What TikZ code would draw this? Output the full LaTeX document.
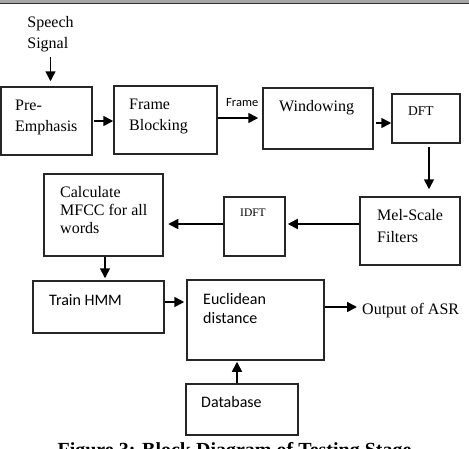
\documentclass[tikz,border=0pt]{standalone}
\usepackage{fontspec}
\setmainfont{Liberation Serif}
\newfontfamily\calibri{Carlito}
\usetikzlibrary{arrows.meta,calc}

\begin{document}
\begin{tikzpicture}[x=1pt,y=-1pt,
  box/.style={draw=black!85, line width=1.5pt, rectangle, inner sep=0pt},
  arr/.style={draw=black, line width=1.6pt, -{Triangle[length=10pt,width=10pt]}},
  txt/.style={anchor=base west, inner sep=0pt, font=\fontsize{16}{21}\selectfont},
  stxt/.style={anchor=base west, inner sep=0pt, font=\calibri\fontsize{16}{19}\selectfont},
]
\useasboundingbox (0,0) rectangle (469,448);
\clip (0,0) rectangle (469,448);

% rule at the top of the page
\fill[black!35] (0,0) rectangle (469,2.6);
\draw[black!80, line width=1.2pt] (0,3.7) -- (469,3.7);

% processing blocks
\node[box, minimum width=91, minimum height=68]  (pre)  at (46.5,121)  {};
\node[box, minimum width=103, minimum height=68] (fb)   at (165.5,120) {};
\node[box, minimum width=110, minimum height=61] (win)  at (318,118.5) {};
\node[box, minimum width=68, minimum height=49]  (dft)  at (426,118.5) {};
\node[box, minimum width=100, minimum height=68] (mel)  at (410,231)   {};
\node[box, minimum width=61, minimum height=59]  (idft) at (254.5,226.5) {};
\node[box, minimum width=119, minimum height=82] (calc) at (103.5,215) {};
\node[box, minimum width=131, minimum height=52] (hmm)  at (98.5,307)  {};
\node[box, minimum width=137, minimum height=80] (euc)  at (255.5,320) {};
\node[box, minimum width=112, minimum height=51] (db)   at (242,409.5) {};

% block texts
\node[txt] at (15,110) {Pre-};
\node[txt] at (15,131) {Emphasis};
\node[txt] at (129,109) {Frame};
\node[txt] at (129,130) {Blocking};
\node[txt] at (279,111) {Windowing};
\node[txt, font=\fontsize{13.5}{16}\selectfont] at (408,115) {DFT};
\node[txt] at (377,220) {Mel-Scale};
\node[txt] at (377,242) {Filters};
\node[txt, font=\fontsize{11.5}{14}\selectfont] at (240,216) {IDFT};
\node[txt] at (60,197) {Calculate};
\node[txt] at (60,215) {MFCC for all};
\node[txt] at (60,233) {words};
\node[stxt] at (49,305) {Train HMM};
\node[stxt] at (203,304) {Euclidean};
\node[stxt] at (203,323) {distance};
\node[stxt] at (201,407) {Database};

% input and output
\node[anchor=north, align=left, inner sep=0pt, font=\fontsize{16}{21}\selectfont]
  (sig) at (50.5,16) {Speech\\Signal};
\node[anchor=base west, inner sep=0pt, font=\fontsize{16}{21}\selectfont]
  (out) at (362,314) {Output of ASR};

% connectors
\draw[arr, shorten <=5.5pt, shorten >=5pt] (sig.south) -- (sig.south |- pre.north);
\draw[arr, shorten <=1.5pt] (pre.east) -- (pre.east -| fb.west);
\draw[arr, shorten >=4pt] ([yshift=2pt]fb.east) -- ([yshift=2pt]fb.east -| win.west)
  node[pos=0.55, anchor=base, inner sep=0pt, yshift=12pt, font=\calibri\fontsize{12.5}{14}\selectfont] {Frame};
\draw[arr, shorten <=2pt] ([yshift=-4.5pt]win.east) -- ([yshift=-4.5pt]win.east -| dft.west);
\draw[arr, shorten <=3pt, shorten >=7pt] ([xshift=3pt]dft.south) -- ([xshift=3pt]dft.south |- mel.north);
\draw[arr, shorten >=2pt] ([yshift=7pt]mel.west) -- ([yshift=7pt]mel.west -| idft.east);
\draw[arr, shorten >=4.5pt] ([yshift=2.5pt]idft.west) -- ([yshift=2.5pt]idft.west -| calc.east);
\draw[arr, shorten >=2pt] ([xshift=1.5pt]calc.south) -- ([xshift=1.5pt]calc.south |- hmm.north);
\draw[arr, shorten >=2pt] ([yshift=5pt]hmm.east) -- ([yshift=5pt]hmm.east -| euc.west);
\draw[arr, shorten >=5pt] ([yshift=13pt]euc.east) -- ([yshift=13pt]euc.east -| out.west);
\draw[arr, shorten >=1pt] ([xshift=-5pt]db.north) -- ([xshift=-5pt]db.north |- euc.south);

% caption, running past the lower edge
\node[anchor=base, inner sep=0pt, font=\bfseries\fontsize{20}{24}\selectfont]
  (cap) at (234.5,456) {Figure 3: Block Diagram of Testing Stage};
\end{tikzpicture}
\end{document}
